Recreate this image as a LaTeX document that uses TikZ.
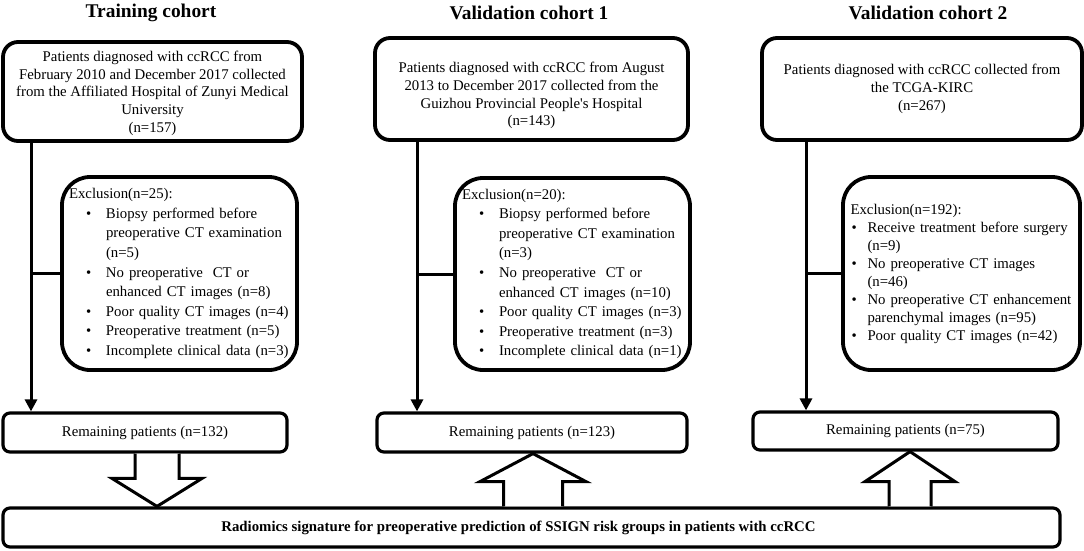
\documentclass[tikz,border=0pt]{standalone}
\usepackage{fontspec}
\setmainfont{Liberation Serif}
\usetikzlibrary{arrows.meta,calc}

\newcommand{\exitem}[2]{\hspace*{#1}\makebox[#2][l]{\textbullet}}

\tikzset{
  cohort/.style={font=\fontsize{19.4}{22}\selectfont\bfseries},
  srcbox/.style={draw, line width=3.8pt, rounded corners=15pt, align=center,
    font=\fontsize{14.8}{17.7}\selectfont, inner sep=0pt},
  exbox/.style={draw, line width=3.8pt, rounded corners=28pt, align=left,
    font=\fontsize{14.8}{19.6}\selectfont, inner ysep=0pt, inner xsep=7pt},
  rembox/.style={draw, line width=3.2pt, rounded corners=7pt,
    font=\fontsize{14.8}{17.7}\selectfont, inner sep=0pt},
  flow/.style={line width=3pt, -{Triangle[width=12pt,length=12pt]}},
  link/.style={line width=3pt},
  blk/.style={line width=3pt, line join=miter, fill=white},
}

% block arrow: from, to, half shaft, half head, head offset
\newcommand{\blkarrow}[5]{%
  \draw[blk] ($(#1)+(-#3,0)$) -- ($(#2)+(-#3,#5)$) -- ($(#2)+(-#4,#5)$) -- (#2)
    -- ($(#2)+(#4,#5)$) -- ($(#2)+(#3,#5)$) -- ($(#1)+(#3,0)$);}

\begin{document}
\begin{tikzpicture}[x=1pt,y=-1pt]
    \useasboundingbox (0,0) rectangle (1084,550);

    % column titles
    \node[cohort] (t1) at (151,13) {Training cohort};
    \node[cohort] (t2) at (529,13) {Validation cohort 1};
    \node[cohort] (t3) at (928,13) {Validation cohort 2};

    % source cohorts
    \node[srcbox, minimum width=299pt, minimum height=99pt] (src1) at (152.5,91.5)
        {\rule{0pt}{14pt}Patients diagnosed with ccRCC from\\ February 2010 and December 2017 collected\\
         from the Affiliated Hospital of Zunyi Medical\\ University\\ (n=157)};
    \node[srcbox, minimum width=313pt, minimum height=102pt] (src2) at (531.5,89)
        {\rule{0pt}{24pt}Patients diagnosed with ccRCC from August\\ 2013 to December 2017 collected from the\\
         Guizhou Provincial People\textquotesingle s Hospital\\ (n=143)};
    \node[srcbox, minimum width=320pt, minimum height=102pt] (src3) at (922,89)
        {Patients diagnosed with ccRCC collected from\\ the TCGA-KIRC\\ (n=267)};

    % exclusions
    \node[exbox, text width=221pt, minimum height=193pt] (ex1) at (179.5,273.5)
        {Exclusion(n=25):\\
         \exitem{17pt}{20pt}Biopsy performed before\\
         \hspace*{37pt}preoperative CT examination\\
         \hspace*{37pt}(n=5)\\
         \exitem{17pt}{20pt}No preoperative\ \ CT or\\
         \hspace*{37pt}enhanced CT images (n=8)\\
         \exitem{17pt}{20pt}Poor quality CT images (n=4)\\
         \exitem{17pt}{20pt}Preoperative treatment (n=5)\\
         \exitem{17pt}{20pt}Incomplete clinical data (n=3)};
    \node[exbox, text width=221pt, minimum height=192pt] (ex2) at (572.5,274)
        {Exclusion(n=20):\\
         \exitem{17pt}{20pt}Biopsy performed before\\
         \hspace*{37pt}preoperative CT examination\\
         \hspace*{37pt}(n=3)\\
         \exitem{17pt}{20pt}No preoperative\ \ CT or\\
         \hspace*{37pt}enhanced CT images (n=10)\\
         \exitem{17pt}{20pt}Poor quality CT images (n=3)\\
         \exitem{17pt}{20pt}Preoperative treatment (n=3)\\
         \exitem{17pt}{20pt}Incomplete clinical data (n=1)};
    \node[exbox, text width=222pt, inner xsep=7.5pt, minimum height=193pt,
          font=\fontsize{14.8}{18}\selectfont] (ex3) at (961.5,273.5)
        {Exclusion(n=192):\\
         \exitem{1pt}{16pt}Receive treatment before surgery\\
         \hspace*{17pt}(n=9)\\
         \exitem{1pt}{16pt}No preoperative CT images\\
         \hspace*{17pt}(n=46)\\
         \exitem{1pt}{16pt}No preoperative CT enhancement\\
         \hspace*{17pt}parenchymal images (n=95)\\
         \exitem{1pt}{16pt}Poor quality CT images (n=42)};

    % remaining
    \node[rembox, minimum width=284pt, minimum height=39pt] (rem1) at (145,432.5) {Remaining patients (n=132)};
    \node[rembox, minimum width=310pt, minimum height=39pt] (rem2) at (532,432.5) {Remaining patients (n=123)};
    \node[rembox, minimum width=305pt, minimum height=38pt] (rem3) at (905.5,431) {Remaining patients (n=75)};

    % signature
    \node[rembox, minimum width=1057pt, minimum height=39pt, font=\fontsize{14.8}{17.7}\selectfont\bfseries] (sig) at (531.5,527.5)
        {Radiomics signature for preoperative prediction of SSIGN risk groups in patients with ccRCC\hspace*{26pt}};

    % flow lines
    \coordinate (l1) at (31,0);
    \coordinate (l2) at (417,0);
    \coordinate (l3) at (806,0);
    \draw[flow] (src1.south -| l1) -- (rem1.north -| l1);
    \draw[flow] (src2.south -| l2) -- (rem2.north -| l2);
    \draw[flow] (src3.south -| l3) -- (rem3.north -| l3);
    \draw[link] (l1 |- ex1.west) -- (ex1.west);
    \draw[link] (l2 |- ex2.west) -- (ex2.west);
    \draw[link] (l3 |- ex3.west) -- (ex3.west);

    % block arrows
    \coordinate (a1) at (157,0);
    \coordinate (a2) at (533,0);
    \coordinate (a3) at (910,0);
    \blkarrow{rem1.south -| a1}{sig.north -| a1}{22}{45}{-28}
    \blkarrow{sig.north -| a2}{rem2.south -| a2}{29.5}{53}{28}
    \blkarrow{sig.north -| a3}{rem3.south -| a3}{21}{45}{30}
\end{tikzpicture}
\end{document}
